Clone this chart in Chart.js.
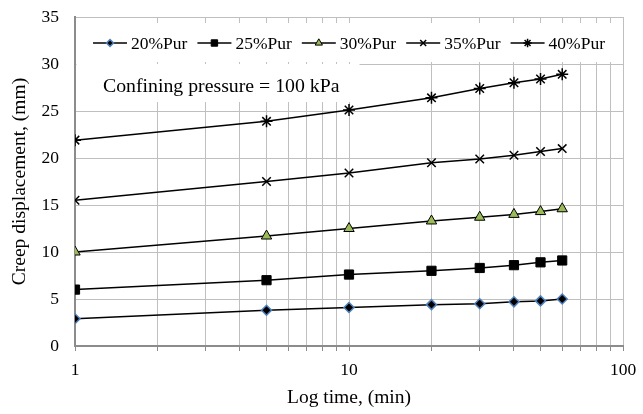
<!DOCTYPE html>
<html>
<head>
<meta charset="utf-8">
<title>Creep displacement vs log time</title>
<script src="https://cdn.jsdelivr.net/npm/chart.js@4/dist/chart.umd.min.js"></script>
<style>
  html, body { margin: 0; padding: 0; background: #fff; }
  #wrap { width: 643px; height: 414px; }
</style>
</head>
<body>
<div id="wrap"><canvas id="creepChart" width="643" height="414"></canvas></div>
<script>
// elapsed time, min
const times = [1, 5, 10, 20, 30, 40, 50, 60];

// creep displacement, mm, per polyurethane content
const pur20 = [2.9, 3.8, 4.1, 4.4, 4.5, 4.7, 4.8, 5.0];
const pur25 = [6.0, 7.0, 7.6, 8.0, 8.3, 8.6, 8.9, 9.1];
const pur30 = [10.0, 11.7, 12.5, 13.3, 13.7, 14.0, 14.3, 14.6];
const pur35 = [15.5, 17.5, 18.4, 19.5, 19.9, 20.3, 20.7, 21.0];
const pur40 = [21.9, 23.9, 25.1, 26.4, 27.4, 28.0, 28.4, 28.9];

const seriesNames = ["20%Pur", "25%Pur", "30%Pur", "35%Pur", "40%Pur"];
const xTickLabels = [1, 10, 100];
const yTicks = [0, 5, 10, 15, 20, 25, 30, 35];
const noteText = "Confining pressure = 100 kPa";

const serif = "'Liberation Serif', 'Times New Roman', serif";

// vertical grid at every integer multiple inside each decade
const xGrid = [];
for (const decade of [1, 10]) {
  for (let k = 1; k <= 9; k++) xGrid.push(k * decade);
}
xGrid.push(100);

const toPoints = (vals) => times.map((t, i) => ({ x: t, y: vals[i] }));

function series(label, vals, style) {
  return Object.assign({
    label,
    data: toPoints(vals),
    borderColor: "#000",
    borderWidth: 1.5,
    tension: 0,
    fill: false,
  }, style);
}

const datasets = [
  series(seriesNames[0], pur20, {
    pointStyle: "rectRot", pointRadius: 5,
    pointBackgroundColor: "#000", pointBorderColor: "#4f81bd", pointBorderWidth: 1.5,
  }),
  series(seriesNames[1], pur25, {
    pointStyle: "rect", pointRadius: 6.5,
    pointBackgroundColor: "#000", pointBorderColor: "#000", pointBorderWidth: 1,
  }),
  series(seriesNames[2], pur30, {
    pointStyle: "triangle", pointRadius: 6,
    pointBackgroundColor: "#9bbb59", pointBorderColor: "#000", pointBorderWidth: 1,
  }),
  series(seriesNames[3], pur35, {
    pointStyle: "crossRot", pointRadius: 6,
    pointBackgroundColor: "#000", pointBorderColor: "#000", pointBorderWidth: 1.5,
  }),
  series(seriesNames[4], pur40, {
    pointStyle: "star", pointRadius: 6,
    pointBackgroundColor: "#000", pointBorderColor: "#000", pointBorderWidth: 1.5,
  }),
];

// legend strip and the pressure note on white panels inside the plot;
// no series reaches these panels, so they are painted last
const boxedLegend = {
  id: "boxedLegend",
  afterDraw(chart) {
    const { ctx, chartArea: area } = chart;
    ctx.save();
    ctx.fillStyle = "#fff";
    ctx.fillRect(area.left + 1.5, area.top + 6, area.right - area.left - 3, 39);
    ctx.fillRect(area.left + 1.5, area.top + 47, 283, 38);

    ctx.fillStyle = "#000";
    ctx.font = "19.8px " + serif;
    ctx.textBaseline = "alphabetic";
    ctx.fillText(noteText, area.left + 28, area.top + 75);

    ctx.font = "17.5px " + serif;
    ctx.textBaseline = "middle";
    const lineLen = 34, gap = 4, itemGap = 10;
    const sets = chart.data.datasets;
    const widths = sets.map(d => lineLen + gap + ctx.measureText(d.label).width);
    const total = widths.reduce((a, b) => a + b, 0) + itemGap * (sets.length - 1);
    let x = (area.left + area.right) / 2 - total / 2;
    const y = area.top + 26;
    sets.forEach((d, i) => {
      ctx.strokeStyle = d.borderColor;
      ctx.lineWidth = 1.5;
      ctx.beginPath();
      ctx.moveTo(x, y);
      ctx.lineTo(x + lineLen, y);
      ctx.stroke();

      ctx.fillStyle = d.pointBackgroundColor;
      ctx.strokeStyle = d.pointBorderColor;
      ctx.lineWidth = d.pointBorderWidth;
      Chart.helpers.drawPoint(ctx, {
        pointStyle: d.pointStyle,
        radius: d.pointRadius * 0.7,
        rotation: 0,
        borderWidth: d.pointBorderWidth,
      }, x + lineLen / 2, y);

      ctx.fillStyle = "#000";
      ctx.fillText(d.label, x + lineLen + gap, y + 1);
      x += widths[i] + itemGap;
    });
    ctx.restore();
  },
};

// software-backed 2D context; Chart.js picks up this same context
const canvas = document.getElementById("creepChart");
canvas.getContext("2d", { willReadFrequently: true });

const chart = new Chart(canvas, {
  type: "line",
  data: { datasets },
  options: {
    responsive: false,
    animation: false,
    layout: { padding: { top: 17, right: 20, left: 0, bottom: 0 } },
    plugins: {
      legend: { display: false },
      tooltip: { enabled: false },
    },
    scales: {
      x: {
        type: "logarithmic",
        min: 1,
        max: 100,
        afterBuildTicks(scale) {
          scale.ticks = xGrid.map(v => ({ value: v, major: xTickLabels.includes(v) }));
        },
        afterFit(scale) {
          scale.height = 68;
          scale.paddingLeft = 0;
          scale.paddingRight = 0;
        },
        ticks: {
          autoSkip: false,
          maxRotation: 0,
          padding: 9,
          color: "#000",
          font: { family: serif, size: 17.5 },
          callback: (v) => (xTickLabels.includes(v) ? String(v) : ""),
        },
        grid: { color: "#bfbfbf", tickColor: "#8c8c8c", tickLength: 5, lineWidth: 1 },
        border: { color: "#8c8c8c", width: 2 },
        title: {
          display: true,
          text: "Log time, (min)",
          color: "#000",
          font: { family: serif, size: 19.5 },
          padding: { top: 0, bottom: 4 },
        },
      },
      y: {
        min: 0,
        max: 35,
        afterBuildTicks(scale) {
          scale.ticks = yTicks.map(v => ({ value: v }));
        },
        afterFit(scale) {
          scale.width = 75;
          scale.paddingTop = 0;
          scale.paddingBottom = 0;
        },
        ticks: {
          padding: 16,
          color: "#000",
          font: { family: serif, size: 17.5 },
        },
        grid: { color: "#bfbfbf", drawTicks: false, lineWidth: 1 },
        border: { color: "#8c8c8c", width: 2 },
        title: {
          display: true,
          text: "Creep displacement, (mm)",
          color: "#000",
          font: { family: serif, size: 19.5 },
          padding: { top: 8, bottom: 0 },
        },
      },
    },
  },
  plugins: [boxedLegend],
});
</script>
</body>
</html>
